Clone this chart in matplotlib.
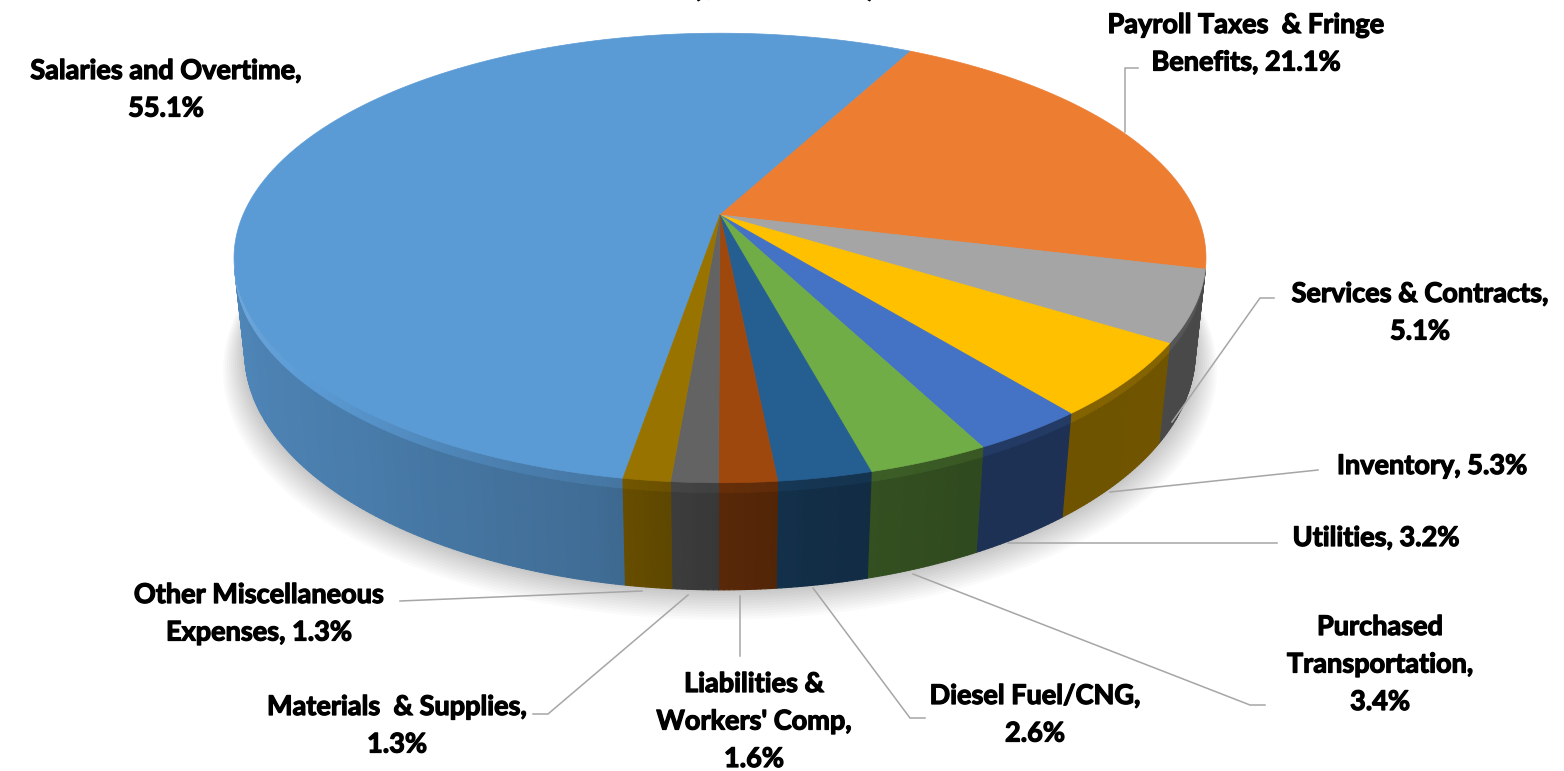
import numpy as np
import matplotlib
matplotlib.use("Agg")
import matplotlib.pyplot as plt
import matplotlib.colors as mcolors
import matplotlib.patheffects as pe
from matplotlib.collections import PolyCollection
from matplotlib.patches import Polygon

# data (percent of total), in Excel data order (clockwise)
categories = ["Salaries and Overtime", "Payroll Taxes & Fringe Benefits",
              "Services & Contracts", "Inventory", "Utilities",
              "Purchased Transportation", "Diesel Fuel/CNG",
              "Liabilities & Workers' Comp", "Materials & Supplies",
              "Other Miscellaneous Expenses"]
values = [55.1, 21.1, 5.1, 5.3, 3.2, 3.4, 2.6, 1.6, 1.3, 1.3]
colors = ["#5B9BD5", "#ED7D31", "#A5A5A5", "#FFC000", "#4472C4",
          "#70AD47", "#255E91", "#9E480E", "#636363", "#997300"]

# label text as shown (line breaks like the original)
label_lines = [
    ["Salaries and Overtime,", "55.1%"],
    ["Payroll Taxes  & Fringe", "Benefits, 21.1%"],
    ["Services & Contracts,", "5.1%"],
    ["Inventory, 5.3%"],
    ["Utilities, 3.2%"],
    ["Purchased", "Transportation,", "3.4%"],
    ["Diesel Fuel/CNG,", "2.6%"],
    ["Liabilities &", "Workers' Comp,", "1.6%"],
    ["Materials  & Supplies,", "1.3%"],
    ["Other Miscellaneous", "Expenses, 1.3%"],
]

# layout (pixels)
label_pos = [(166, 71), (1246, 25), (1420, 294), (1432, 466), (1376, 538),
             (1380, 627), (1035, 696), (754, 684), (397, 707), (259, 595)]
leaders = [
    None,
    [(1125, 132), (1125, 68), (1138, 68)],
    [(1172, 422), (1260, 298), (1274, 298)],
    [(1110, 492), (1318, 470)],
    [(1008, 543), (1277, 543)],
    [(913, 574), (1250, 705), (1265, 705)],
    [(813, 588), (910, 718), (925, 718)],
    [(740, 596), (740, 656)],
    [(688, 595), (548, 714), (533, 714)],
    [(642, 591), (400, 601)],
]

CX, CY, S = 720, 215, 477          # apex and radius on screen
ELEV = np.radians(27)
DIST = 4.66                        # camera distance (radius units)
H = 0.223                          # thickness
START = 260.5                      # angle of first slice edge (deg)
FONT = ["Lato", "DejaVu Sans"]
HEAVY = [pe.withStroke(linewidth=0.9, foreground='black')]


def project(phi, z, r=1.0):
    p = np.radians(phi)
    X, Y = r * np.cos(p), r * np.sin(p)
    w = 1 + (Y * np.cos(ELEV) - z * np.sin(ELEV)) / DIST
    return CX + S * X / w, CY - S * (Y * np.sin(ELEV) + z * np.cos(ELEV)) / w


def shade(phi):
    phi = phi % 360
    return np.interp(phi, [180, 200, 230, 258, 268, 280, 295, 360],
                     [0.9, 0.86, 0.8, 0.7, 0.58, 0.48, 0.43, 0.45])


def scaled(c, f):
    rgb = np.array(mcolors.to_rgb(c))
    if f <= 1:
        return tuple(rgb * f)
    return tuple(rgb + (1 - rgb) * (f - 1))


fig = plt.figure(figsize=(15.64, 7.71), dpi=100)
ax = fig.add_axes([0, 0, 1, 1])
ax.set_xlim(0, 1564)
ax.set_ylim(771, 0)
ax.axis('off')

frac = np.array(values) / sum(values)
edges = START - 360 * np.concatenate([[0], np.cumsum(frac)])

# soft shadow under the pie
ring = np.linspace(0, 360, 361)
for i in range(12):
    x, y = project(ring, -H, 1 + 0.004 * i)
    ax.fill(x, y + 1.3 * i, color='black', alpha=0.02, lw=0, zorder=1)

# outer walls (only the part facing the camera)
vis_lim = -1 / (DIST * np.cos(ELEV))
quads, qcols = [], []
for i in range(len(values)):
    a0, a1 = edges[i], edges[i + 1]
    n = max(int((a0 - a1) / 0.5), 2)
    ph = np.linspace(a1, a0, n + 1)
    for j in range(n):
        m = 0.5 * (ph[j] + ph[j + 1])
        if np.sin(np.radians(m)) >= vis_lim:
            continue
        xt0, yt0 = project(ph[j], 0)
        xt1, yt1 = project(ph[j + 1], 0)
        xb0, yb0 = project(ph[j], -H)
        xb1, yb1 = project(ph[j + 1], -H)
        xm0, ym0 = project(ph[j], -0.02)
        xm1, ym1 = project(ph[j + 1], -0.02)
        f = shade(m)
        quads.append([(xm0, ym0), (xm1, ym1), (xb1, yb1), (xb0, yb0)])
        qcols.append(scaled(colors[i], f))
        # thin rounded rim, lit on the left
        rim = f + np.interp(m % 360, [190, 215, 250], [0.3, 0.2, 0.08])
        quads.append([(xt0, yt0), (xt1, yt1), (xm1, ym1), (xm0, ym0)])
        qcols.append(scaled(colors[i], min(rim, 1.1)))
ax.add_collection(PolyCollection(quads, facecolors=qcols, edgecolors=qcols,
                                 linewidths=0.8, zorder=2))

# top faces
for i in range(len(values)):
    a0, a1 = edges[i], edges[i + 1]
    ph = np.linspace(a0, a1, max(int((a0 - a1) / 0.5), 2) + 1)
    x, y = project(ph, 0)
    pts = [(CX, CY)] + list(zip(x, y))
    ax.add_patch(Polygon(pts, closed=True, facecolor=colors[i],
                         edgecolor=colors[i], lw=0.5, zorder=3))

# leader lines
for pts in leaders:
    if pts is None:
        continue
    xs, ys = zip(*pts)
    ax.plot(xs, ys, color='#A6A6A6', lw=1.1, zorder=4,
            solid_joinstyle='miter')

# data labels
for lines, (lx, ly) in zip(label_lines, label_pos):
    for k, line in enumerate(lines):
        ax.text(lx, ly + 37.5 * k, line, ha='center', va='center',
                fontsize=19.5, fontweight='bold', family=FONT,
                color='black', zorder=5, path_effects=HEAVY)

# title, cut off by the top edge like in the original
ax.text(784, -4, "($ in Millions)", ha='center', va='baseline', fontsize=22,
        fontweight='bold', family=FONT, clip_on=False, path_effects=HEAVY)

fig.savefig("out.png", dpi=100, facecolor='white')
